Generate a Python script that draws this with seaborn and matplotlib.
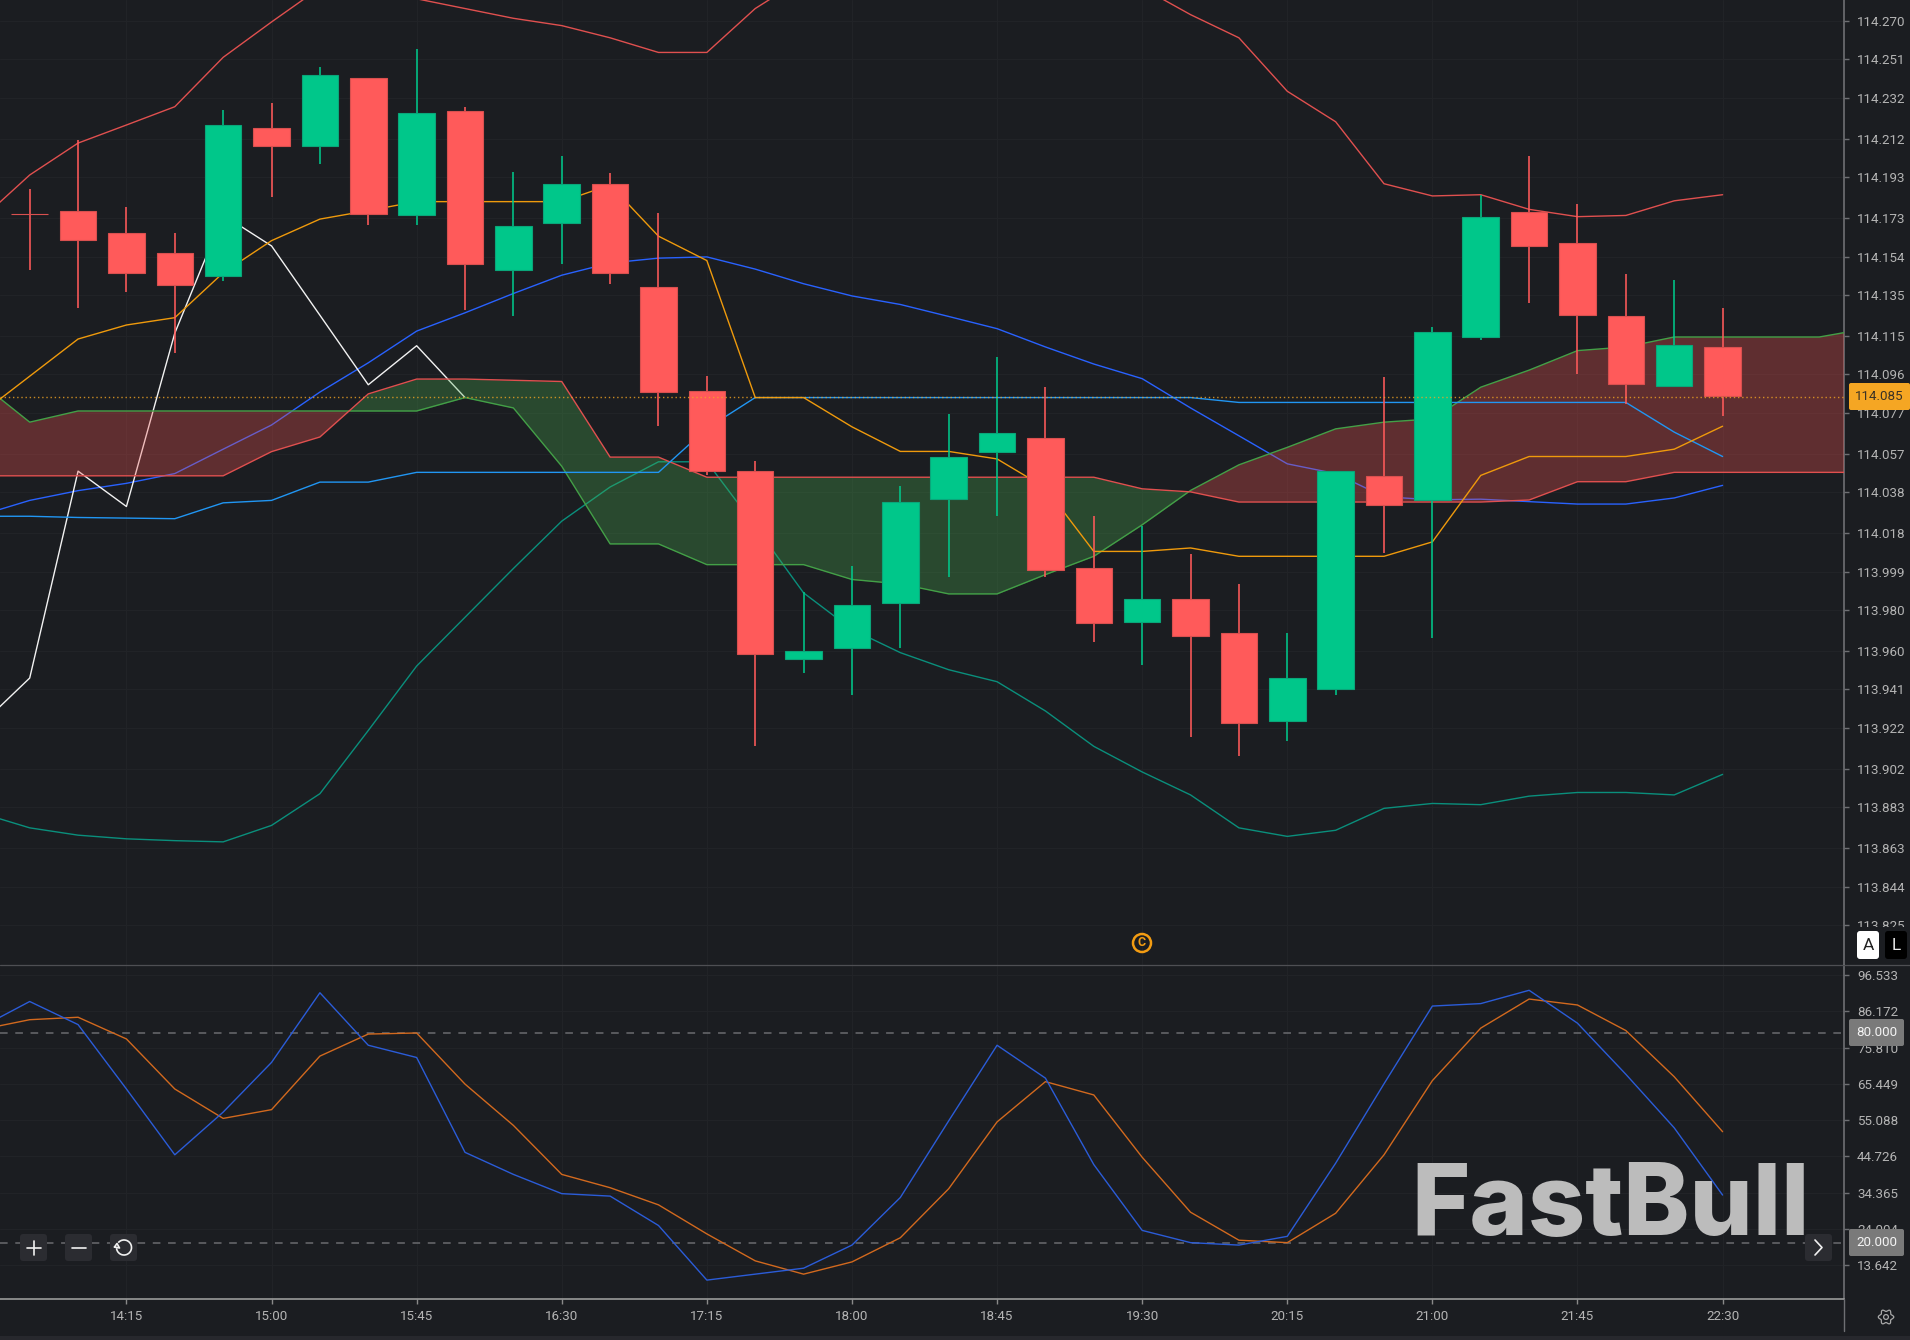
import numpy as np
import pandas as pd
import seaborn as sns
import matplotlib
matplotlib.use("Agg")
import matplotlib.pyplot as plt
from matplotlib.patches import FancyBboxPatch, Circle, Rectangle, Arc
from matplotlib.transforms import Bbox

# ---------------- data ----------------
opens = [114.1748,114.1766,114.1658,114.1556,114.1442,114.2173,114.2083,114.2419,114.1742,114.2257,114.1472,114.1706,
         114.1898,114.1388,114.0879,114.0484,113.9561,113.9615,113.9837,114.0346,114.0580,114.0646,114.0005,113.9741,
         113.9855,113.9687,113.9256,113.9412,114.0460,114.0340,114.1143,114.1760,114.1604,114.1245,114.0903,114.1095]
highs = [114.1874,114.2113,114.1784,114.1658,114.2263,114.2293,114.2473,114.2419,114.2562,114.2275,114.1957,114.2035,
         114.1951,114.1754,114.0951,114.0532,113.9891,114.0017,114.0412,114.0765,114.1047,114.0897,114.0262,114.0214,
         114.0077,113.9927,113.9687,114.0484,114.0945,114.1191,114.1844,114.2035,114.1796,114.1454,114.1424,114.1287]
lows = [114.1472,114.1287,114.1364,114.1065,114.1418,114.1832,114.1993,114.1694,114.1694,114.1275,114.1245,114.1502,
        114.1406,114.0706,114.0466,113.9130,113.9490,113.9382,113.9615,113.9963,114.0262,113.9963,113.9645,113.9532,
        113.9178,113.9082,113.9154,113.9382,114.0083,113.9663,114.1131,114.1311,114.0963,114.0813,114.0903,114.0753]
closes = [114.1748,114.1622,114.1460,114.1400,114.2185,114.2083,114.2431,114.1748,114.2245,114.1502,114.1688,114.1898,
          114.1460,114.0873,114.0484,113.9585,113.9597,113.9825,114.0334,114.0556,114.0670,114.0000,113.9735,113.9855,
          113.9675,113.9244,113.9466,114.0484,114.0316,114.1167,114.1736,114.1592,114.1251,114.0915,114.1107,114.0855]

boll_upper = [114.1724,114.1941,114.2098,114.2187,114.2277,114.2520,114.2694,114.2862,114.2874,114.2808,114.2760,114.2712,
              114.2676,114.2616,114.2544,114.2544,114.2760,114.2910,114.3072,114.3132,114.3191,114.3191,114.3132,114.3012,
              114.2862,114.2730,114.2616,114.2353,114.2203,114.1898,114.1838,114.1844,114.1772,114.1736,114.1742,114.1814,114.1844]
boll_mid = [114.0268,114.0340,114.0388,114.0424,114.0472,114.0592,114.0711,114.0873,114.1017,114.1173,114.1263,114.1358,
            114.1448,114.1508,114.1532,114.1538,114.1478,114.1406,114.1346,114.1304,114.1245,114.1185,114.1095,114.1011,
            114.0939,114.0795,114.0658,114.0520,114.0472,114.0358,114.0343,114.0346,114.0334,114.0322,114.0322,114.0352,114.0414]
boll_lower = [113.8801,113.8729,113.8693,113.8675,113.8666,113.8660,113.8741,113.8897,113.9208,113.9525,113.9765,114.0005,
              114.0238,114.0406,114.0530,114.0530,114.0214,113.9885,113.9705,113.9591,113.9507,113.9448,113.9304,113.9130,
              113.9004,113.8891,113.8729,113.8687,113.8717,113.8825,113.8849,113.8843,113.8885,113.8903,113.8903,113.8891,113.8992]
kijun = [114.0262,114.0262,114.0256,114.0253,114.0250,114.0328,114.0340,114.0430,114.0430,114.0478,114.0478,114.0478,
         114.0478,114.0478,114.0478,114.0694,114.0846,114.0846,114.0846,114.0846,114.0846,114.0846,114.0846,114.0846,
         114.0846,114.0846,114.0822,114.0822,114.0822,114.0822,114.0822,114.0822,114.0822,114.0822,114.0822,114.0676,114.0556]
tenkan = [114.0768,114.0951,114.1134,114.1203,114.1239,114.1460,114.1618,114.1724,114.1766,114.1810,114.1810,114.1810,
          114.1810,114.1892,114.1640,114.1520,114.0846,114.0846,114.0702,114.0581,114.0581,114.0544,114.0402,114.0089,
          114.0089,114.0106,114.0065,114.0065,114.0065,114.0065,114.0136,114.0463,114.0556,114.0556,114.0556,114.0592,114.0705]
chikou = [113.9238,113.9466,114.0484,114.0310,114.1163,114.1744,114.1592,114.1251,114.0909,114.1101,114.0846]
span_a = [114.0915,114.0725,114.0780,114.0780,114.0780,114.0780,114.0780,114.0780,114.0780,114.0780,114.0846,114.0795,
          114.0508,114.0126,114.0126,114.0024,114.0024,114.0024,113.9951,113.9929,113.9880,113.9880,113.9975,114.0065,
          114.0220,114.0389,114.0515,114.0601,114.0692,114.0725,114.0741,114.0897,114.0981,114.1077,114.1095,114.1144,
          114.1144,114.1144,114.1144,114.1186]
span_b = [114.0461,114.0461,114.0461,114.0461,114.0461,114.0461,114.0580,114.0652,114.0864,114.0937,114.0937,114.0931,
          114.0925,114.0553,114.0553,114.0454,114.0454,114.0454,114.0454,114.0454,114.0454,114.0454,114.0454,114.0454,
          114.0397,114.0382,114.0332,114.0332,114.0332,114.0332,114.0332,114.0332,114.0342,114.0432,114.0432,114.0478,
          114.0478,114.0478,114.0478,114.0478]
last_price = 114.085

stoch_k = [81.7,89.0,82.4,64.0,45.2,57.4,71.6,91.5,76.5,73.0,45.9,39.6,34.1,33.4,25.0,9.4,11.1,12.8,19.4,33.0,54.9,76.5,
           67.1,42.4,23.6,20.1,19.4,21.9,42.8,65.5,87.7,88.4,92.2,82.8,68.2,52.9,33.7]
stoch_d = [81.0,83.8,84.5,78.3,64.0,55.6,58.1,73.4,79.7,80.0,65.4,53.6,39.6,35.8,30.9,22.6,14.9,11.1,14.6,21.5,35.5,54.6,
           66.1,62.3,44.5,28.8,20.8,20.1,28.5,45.2,66.4,81.4,89.7,88.0,80.7,67.5,51.8]
stoch_levels = [80, 20]

price_ticks = [114.270,114.251,114.232,114.212,114.193,114.173,114.154,114.135,114.115,114.096,114.077,114.057,114.038,
               114.018,113.999,113.980,113.960,113.941,113.922,113.902,113.883,113.863,113.844,113.825]
osc_ticks = [96.533,86.172,75.810,65.449,55.088,44.726,34.365,24.004,13.642]
time_labels = ["14:15","15:00","15:45","16:30","17:15","18:00","18:45","19:30","20:15","21:00","21:45","22:30"]
time_pos = [2,5,8,11,14,17,20,23,26,29,32,35]

# ---------------- style ----------------
BG = "#1b1d21"; GRID = "#212327"; TXT = "#b4b4b4"; AXC = "#6e6f73"
UP = "#00c78a"; DOWN = "#ff5a5a"
sns.set_theme(style="dark")
plt.rcParams['font.family'] = ['Roboto', 'DejaVu Sans']
W, H = 1910, 1340
fig = plt.figure(figsize=(W/100, H/100), dpi=100, facecolor=BG)

SPLIT, BOTTOM, RIGHT = 965, 1299, 1844
ax1 = fig.add_axes([0, 1-SPLIT/H, RIGHT/W, SPLIT/H], facecolor=BG)
ax2 = fig.add_axes([0, 1-BOTTOM/H, RIGHT/W, (BOTTOM-SPLIT)/H], facecolor=BG)
ov = fig.add_axes([0, 0, 1, 1], facecolor="none", zorder=10)
ov.set_xlim(0, W); ov.set_ylim(H, 0); ov.axis("off")

idx = np.arange(36)
idx_l = np.arange(-1, 36)
idx_s = np.arange(-1, 39)
idx_c = np.arange(-1, 10)
XLIM = (-0.614, 37.51)

def line(ax, x, y, color, z, lw=1.0):
    sns.lineplot(x=x, y=y, ax=ax, color=color, linewidth=lw, zorder=z, errorbar=None, legend=False, sort=False)

# ---- main pane ----
line(ax1, idx_l, boll_upper, "#e0504f", 2)
line(ax1, idx_l, boll_mid, "#2962ff", 2)
line(ax1, idx_l, boll_lower, "#0a8f7c", 2)
line(ax1, idx_c, chikou, "#f2f2f2", 2)

a = np.array(span_a); b = np.array(span_b)
ax1.fill_between(idx_s, a, b, where=a >= b, interpolate=True, color="#ef5350", alpha=0.32, lw=0, zorder=3)
ax1.fill_between(idx_s, a, b, where=a < b, interpolate=True, color="#4caf50", alpha=0.30, lw=0, zorder=3)
line(ax1, idx_s, span_a, "#43a047", 3.1)
line(ax1, idx_s, span_b, "#e0504f", 3.1)
line(ax1, idx_l, kijun, "#2196f3", 3.2)
line(ax1, idx_l, tenkan, "#ef9a0c", 3.2)

o = np.array(opens); c = np.array(closes); hi = np.array(highs); lo = np.array(lows)
up = c > o
body_col = np.where(up, UP, DOWN)
edge_col = np.where(up, "#0aa67a", "#d9504f")
ax1.vlines(idx, lo, hi, colors=body_col, linewidth=1.15, zorder=4.9)
ax1.bar(idx, np.abs(c-o), bottom=np.minimum(o, c), width=0.755, color=body_col,
        edgecolor=edge_col, linewidth=0.8, zorder=5)
ax1.axhline(last_price, color="#f5a623", lw=1.0, ls=(0, (1, 2)), alpha=0.8, zorder=6)

ax1.set_xlim(*XLIM)
ax1.set_ylim(114.2802 - 965*0.000492, 114.2802)
ax1.set_yticks(price_ticks)
ax1.set_yticklabels([f"{t:.3f}" for t in price_ticks])
ax1.set_xticks(time_pos); ax1.set_xticklabels([])

# ---- oscillator pane ----
ax2.text(1411, 1235, "FastBull", transform=ov.transData, color="#bcbcbc", fontsize=71.8, family="Inter",
         fontweight="heavy", ha="left", va="baseline", zorder=1.5)
line(ax2, idx_l, stoch_d, "#d2691e", 2)
line(ax2, idx_l, stoch_k, "#2b5cd8", 2)
for lv in stoch_levels:
    ax2.axhline(lv, color="#6a6b6f", lw=1.1, ls=(0, (5, 5)), zorder=1.8)
ax2.set_xlim(*XLIM)
ax2.set_ylim(80-266/3.5, 80+68/3.5)
ax2.set_yticks(osc_ticks)
ax2.set_yticklabels([f"{t:.3f}" for t in osc_ticks])
ax2.set_xticks(time_pos); ax2.set_xticklabels(time_labels)

for ax in (ax1, ax2):
    ax.grid(True, color=GRID, lw=0.8, zorder=0)
    ax.set_axisbelow(True)
    ax.set_xlabel(""); ax.set_ylabel("")
    ax.yaxis.tick_right()
    ax.tick_params(axis="y", which="both", right=True, left=False, length=3.6, width=1, color=AXC,
                   labelcolor=TXT, labelsize=9.6, pad=5.8)
    for s in ("left", "top"):
        ax.spines[s].set_visible(False)
    ax.spines["right"].set_color(AXC); ax.spines["right"].set_linewidth(1.2); ax.spines["right"].set_visible(True)
ax1.spines["bottom"].set_visible(False)
ax1.tick_params(axis="x", bottom=False, labelbottom=False)
ax2.spines["bottom"].set_color("#9a9a9a"); ax2.spines["bottom"].set_linewidth(1.2); ax2.spines["bottom"].set_visible(True)
ax2.tick_params(axis="x", bottom=True, length=3.6, width=1, color="#8a8a8a", labelcolor=TXT, labelsize=9.6, pad=4.5)

# last price tick label is cut off by the pane edge
lab = ax1.get_yticklabels()[-1]
lab.set_clip_box(Bbox([[0, H-927], [W, H]])); lab.set_clip_on(True)

# ---- chrome ----
def box(x0, y0, x1, y1, fc, r=3, z=5):
    ov.add_patch(FancyBboxPatch((x0+r, y0+r), x1-x0-2*r, y1-y0-2*r, boxstyle=f"round,pad={r},rounding_size={r}",
                                fc=fc, ec="none", lw=0, zorder=z))

ov.plot([0, W], [SPLIT, SPLIT], color="#4e4f53", lw=0.9, zorder=1)
ov.plot([RIGHT, RIGHT], [BOTTOM, 1331], color=AXC, lw=1.0, zorder=1)
ov.add_patch(Rectangle((0, 1336), W, 4, fc="#27282d", ec="none", zorder=1))

box(1849, 383, 1910, 410, "#f5a623", r=2)
ov.text(1879, 396.5, "114.085", color="#3a3226", fontsize=9.6, ha="center", va="center", zorder=6)
for y0, t in ((1019, "80.000"), (1229, "20.000")):
    box(1849, y0, 1904, y0+27, "#7a7a7a", r=2)
    ov.text(1876.5, y0+13.5, t, color="#f4f4f4", fontsize=9.6, ha="center", va="center", zorder=6)

box(1857, 931, 1879, 959, "#ffffff", r=3)
ov.text(1868, 945, "A", color="#222222", fontsize=12.5, ha="center", va="center", zorder=6)
box(1885, 931, 1907, 959, "#000000", r=3)
ov.text(1896, 945, "L", color="#e8e8e8", fontsize=12.5, ha="center", va="center", zorder=6)

# copyright mark
ov.add_patch(Circle((1142, 943), 9, fc="none", ec="#f39c12", lw=1.8, zorder=6))
ov.text(1142, 943, "C", color="#f39c12", fontsize=9, fontweight="bold", ha="center", va="center", zorder=6)

# zoom buttons
for x0 in (20, 65, 110):
    box(x0, 1234, x0+27, 1261, "#2b2c31", r=3)
box(1805, 1234, 1832, 1261, "#2b2c31", r=3)
ov.plot([26.5, 40.5], [1247.5, 1247.5], color="#f0f0f0", lw=1.2, zorder=6)
ov.plot([33.5, 33.5], [1240.5, 1254.5], color="#f0f0f0", lw=1.2, zorder=6)
ov.plot([71.5, 85.5], [1247.5, 1247.5], color="#f0f0f0", lw=1.2, zorder=6)
# reset icon
ov.add_patch(Arc((124, 1247.5), 15, 15, theta1=-140, theta2=175, color="#f0f0f0", lw=1.2, zorder=6))
ov.plot([114.5, 117, 119.5, 114.5], [1247, 1243.5, 1248, 1247], color="#f0f0f0", lw=1.2, zorder=6)
# chevron
ov.plot([1815, 1822, 1815], [1240, 1247.5, 1255], color="#f0f0f0", lw=1.2, zorder=6)
# gear icon
th = np.linspace(0, 2*np.pi, 200)
rr = 6.6 + 1.1*np.cos(6*th)
ov.plot(1886 + rr*np.cos(th), 1317 + rr*np.sin(th), color="#a8a8a8", lw=0.9, zorder=6)
ov.add_patch(Circle((1886, 1317), 2.4, fc="none", ec="#a8a8a8", lw=0.9, zorder=6))

fig.savefig("out.png", dpi=100, facecolor=BG)
